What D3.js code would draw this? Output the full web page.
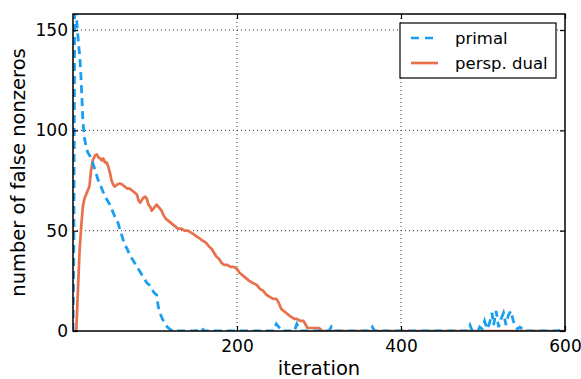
<!DOCTYPE html>
<html>
<head>
<meta charset="utf-8">
<script src="https://cdn.jsdelivr.net/npm/d3@7"></script>
<style>
  body { margin: 0; background: #fff; }
  text { font-family: "DejaVu Sans", sans-serif; fill: #000; }
</style>
</head>
<body>
<svg id="chart" width="581" height="379"></svg>
<script>
// iterations / false-nonzero counts
const primalIter = [0,1,2,4,5,6,7,8,9,10,11,12,13,14,16,18,21,24,27,30,33,36,39,42,45,48,51,54,57,60,63,66,69,72,75,78,81,84,87,90,93,96,99,102,104,106,109,112,115,118,121,150,154,157,160,245,248,251,254,270,273,276,278,312,315,318,362,365,368,480,484,487,494,496,499,502,505,508,511,513,516,519,522,525,528,531,534,537,539,542,545,548,551,592,596,600];
const primalVals = [0,40,158,158,152,147,142,138,132,124,115,105,100,96,92,89,87,84,80,76,73,70,67,65,63,60,57,55,51,47,43,41,38,36,34,32,30,28,26,24,23,21,19,18,12,9,6,4,2,1,0,0,1,1.5,0,0,3.5,2,0,0,3.5,1,0,0,2,0,0,2,0,0,3,0,0,2,1,5,1,4,9,3,10,2,6,9,3,8,10,5,3,1,2,1,0,0,1,2];

const dualIter = [0,4,6,8,10,12,14,16,18,20,22,24,27,29,31,33,35,37,39,41,43,45,47,49,51,54,57,60,63,66,69,72,75,78,80,82,85,88,90,92,94,96,98,100,102,104,106,108,110,113,116,119,122,125,128,132,136,140,144,148,151,155,158,162,166,169,172,175,178,181,184,188,192,196,200,203,206,209,212,215,219,224,228,232,236,240,244,248,251,254,257,260,263,266,270,273,277,281,284,286,300,304,600];
const dualVals = [0,0,20,40,52,62,66,68,70,72,80,85,87.5,88,86.5,86,85,86,84,84,82,79,75,73,72,73,73.5,73,72,71,71,70,69,68,65,64,66,67,66,63,62,60,61,62,63,62,61,60,58,56,55,54,53,52,51,51,50,50,49,48,47,46,45,44,42,41,39,37,36,34,33,33,32,32,31,29,28,27,26,25,24,23,21,20,18,17,16,16,14,11,10,9,8,7,6,6,5,5,3,1.5,1.5,0,0];

const xTicks = [200, 400, 600];
const yTicks = [0, 50, 100, 150];
const seriesNames = ["primal", "persp. dual"];
const seriesColors = ["#1a9ff0", "#e8704a"];

const width = 581, height = 379;
const margin = {top: 14, right: 16, bottom: 48, left: 73};
const w = width - margin.left - margin.right;
const h = height - margin.top - margin.bottom;

const svg = d3.select("#chart");
const g = svg.append("g").attr("transform", `translate(${margin.left},${margin.top})`);

const x = d3.scaleLinear().domain([0, 600]).range([0, w]);
const y = d3.scaleLinear().domain([0, 158]).range([h, 0]);

g.append("clipPath").attr("id", "clip")
  .append("rect").attr("width", w).attr("height", h);

// dotted grid
g.append("g").selectAll("line")
  .data(yTicks.filter(v => v > 0))
  .join("line")
  .attr("x1", 0).attr("x2", w)
  .attr("y1", d => y(d)).attr("y2", d => y(d))
  .attr("stroke", "#333").attr("stroke-width", 1)
  .attr("stroke-dasharray", "1,3");
g.append("g").selectAll("line")
  .data(xTicks.filter(v => v < 600))
  .join("line")
  .attr("y1", 0).attr("y2", h)
  .attr("x1", d => x(d)).attr("x2", d => x(d))
  .attr("stroke", "#333").attr("stroke-width", 1)
  .attr("stroke-dasharray", "1,3");

// lines
const line = d3.line().x(d => x(d[0])).y(d => y(d[1]));
const plot = g.append("g").attr("clip-path", "url(#clip)");

plot.append("path")
  .datum(dualIter.map((it, i) => [it, dualVals[i]]))
  .attr("d", line)
  .attr("fill", "none")
  .attr("stroke", seriesColors[1])
  .attr("stroke-width", 2.7)
  .attr("stroke-linejoin", "round");

plot.append("path")
  .datum(primalIter.map((it, i) => [it, primalVals[i]]))
  .attr("d", line)
  .attr("fill", "none")
  .attr("stroke", seriesColors[0])
  .attr("stroke-width", 2.8)
  .attr("stroke-dasharray", "8,5");

// axes, ticks inward on all four sides
const fontSize = "17px";
const axBottom = g.append("g").attr("transform", `translate(0,${h})`)
  .call(d3.axisBottom(x).tickValues(xTicks).tickSizeInner(-5).tickSizeOuter(0).tickPadding(9));
const axLeft = g.append("g")
  .call(d3.axisLeft(y).tickValues(yTicks).tickSizeInner(-5).tickSizeOuter(0).tickPadding(5));
const axTop = g.append("g")
  .call(d3.axisTop(x).tickValues(xTicks).tickSizeInner(-5).tickSizeOuter(0).tickFormat(""));
const axRight = g.append("g").attr("transform", `translate(${w},0)`)
  .call(d3.axisRight(y).tickValues(yTicks).tickSizeInner(-5).tickSizeOuter(0).tickFormat(""));

[axBottom, axLeft, axTop, axRight].forEach(a => {
  a.select(".domain").remove();
  a.selectAll(".tick line").attr("stroke", "#000").attr("stroke-width", 1.2);
  a.selectAll("text").style("font-size", fontSize).style("font-family", "DejaVu Sans, sans-serif");
});

g.append("rect")
  .attr("width", w).attr("height", h)
  .attr("fill", "none").attr("stroke", "#000").attr("stroke-width", 1.5);

// axis labels
svg.append("text")
  .attr("x", margin.left + w / 2).attr("y", 375)
  .attr("text-anchor", "middle")
  .style("font-size", "19.5px")
  .text("iteration");
svg.append("text")
  .attr("transform", `translate(25,${margin.top + h / 2}) rotate(-90)`)
  .attr("text-anchor", "middle")
  .style("font-size", "19.5px")
  .text("number of false nonzeros");

// legend
const legend = svg.append("g").attr("transform", "translate(400,23)");
legend.append("rect")
  .attr("width", 156).attr("height", 55)
  .attr("fill", "#fff").attr("stroke", "#000").attr("stroke-width", 1.2);
const items = legend.selectAll(".item")
  .data(seriesNames)
  .join("g")
  .attr("class", "item")
  .attr("transform", (d, i) => `translate(0,${15 + i * 25})`);
items.append("line")
  .attr("x1", 11).attr("x2", 38)
  .attr("stroke", (d, i) => seriesColors[i])
  .attr("stroke-width", 2.7)
  .attr("stroke-dasharray", (d, i) => i === 0 ? "8,6" : null);
items.append("text")
  .attr("x", 55).attr("y", 6)
  .style("font-size", "16.5px")
  .text(d => d);
</script>
</body>
</html>
